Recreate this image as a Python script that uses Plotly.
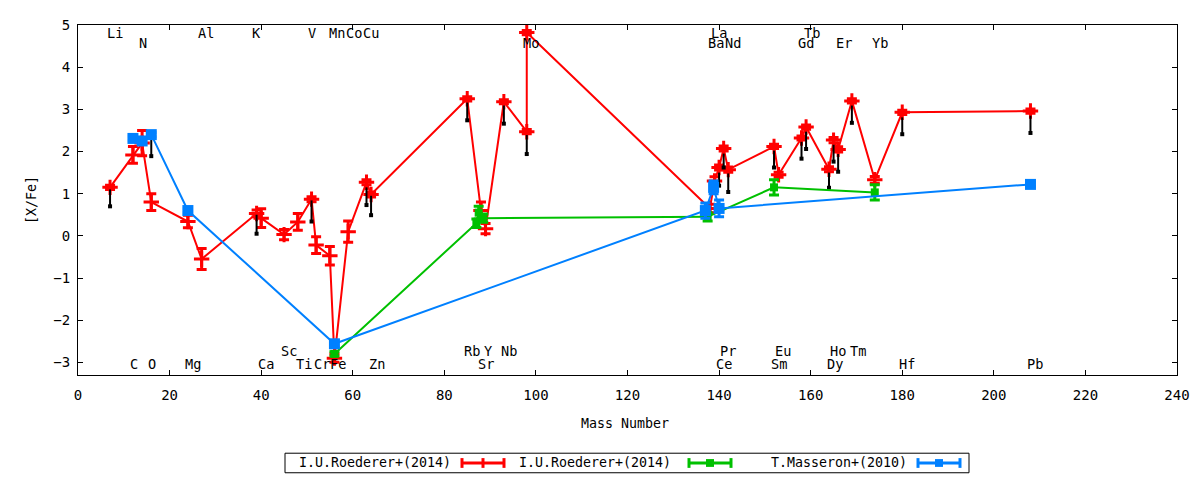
import plotly.graph_objects as go

# I.U.Roederer+(2014), main set (red)
red_x = [7, 12, 14, 16, 24, 27, 39, 40, 45, 48, 51, 52, 55, 56, 59, 63, 64,
         85, 88, 89, 93, 98, 98, 138, 139, 140, 141, 142, 152, 153, 158, 159,
         164, 165, 166, 169, 174, 180, 208]
red_y = [1.15, 1.92, 2.2, 0.8, 0.34, -0.55, 0.53, 0.42, 0.03, 0.33, 0.87, -0.22,
         -0.47, -2.9, 0.1, 1.27, 0.98, 3.25, 0.6, 0.17, 3.18, 2.47, 4.82, 0.65,
         1.3, 1.62, 2.07, 1.57, 2.12, 1.45, 2.32, 2.58, 1.58, 2.27, 2.05, 3.2,
         1.33, 2.93, 2.96]
red_err = [0.05, 0.2, 0.3, 0.2, 0.15, 0.25, 0.08, 0.22, 0.12, 0.2, 0.06, 0.2,
           0.22, 0.1, 0.25, 0.06, 0.06, 0.05, 0.2, 0.12, 0.05, 0.05, 0.05, 0.1,
           0.1, 0.06, 0.06, 0.06, 0.05, 0.06, 0.05, 0.05, 0.06, 0.06, 0.06, 0.05,
           0.08, 0.05, 0.05]

# upper-limit arrows under some red points
arrow_x = [7, 16, 39, 51, 63, 64, 85, 93, 98, 140, 141, 142, 152, 158, 159,
           164, 165, 166, 169, 180, 208]
arrow_top = [1.1, 2.3, 0.5, 0.84, 1.15, 0.95, 3.16, 3.09, 2.39, 1.5, 1.95, 1.48,
             2.02, 2.23, 2.47, 1.5, 2.16, 1.94, 3.09, 2.81, 2.85]
arrow_bot = [0.7, 1.89, 0.05, 0.34, 0.73, 0.49, 2.74, 2.66, 1.94, 1.19, 1.62,
             1.04, 1.62, 1.83, 2.06, 1.14, 1.76, 1.52, 2.68, 2.41, 2.44]

# I.U.Roederer+(2014), second set (green)
green_x = [56, 87, 87.5, 88.5, 137.5, 152, 174]
green_y = [-2.8, 0.3, 0.55, 0.42, 0.45, 1.15, 1.03]
green_err = [0.05, 0.1, 0.15, 0.1, 0.1, 0.18, 0.18]

# T.Masseron+(2010) (blue)
blue_x = [12, 14, 16, 24, 56, 137, 138.8, 140, 208]
blue_y = [2.31, 2.25, 2.4, 0.6, -2.56, 0.6, 1.15, 0.65, 1.22]
blue_err = [0.05, 0.05, 0.05, 0.05, 0.08, 0.18, 0.15, 0.2, 0.05]

# element labels: names and x per row
top1_names = ['Li', 'Al', 'K', 'V', 'Mn', 'Co', 'Cu', 'La', 'Tb']
top1_x = [8.0, 27.9, 39.0, 51.1, 56.5, 60.2, 63.9, 140.0, 160.3]
top2_names = ['N', 'Mo', 'Ba', 'Nd', 'Gd', 'Er', 'Yb']
top2_x = [14.1, 98.9, 139.3, 143.0, 159.0, 167.3, 175.2]
bot1_names = ['Sc', 'Rb', 'Y', 'Nb', 'Pr', 'Eu', 'Ho', 'Tm']
bot1_x = [46.0, 86.0, 89.6, 94.1, 142.0, 154.0, 166.0, 170.4]
bot2_names = ['C', 'O', 'Mg', 'Ca', 'Ti', 'Cr', 'Fe', 'Zn', 'Sr', 'Ce', 'Sm',
              'Dy', 'Hf', 'Pb']
bot2_x = [12.2, 16.1, 25.1, 41.0, 49.3, 53.3, 56.7, 65.3, 89.1, 141.1, 153.1,
          165.3, 181.1, 209.0]
row_y = [4.81, 4.57, -2.72, -3.04]

legend_names = ['I.U.Roederer+(2014)', 'I.U.Roederer+(2014)', 'T.Masseron+(2010)']

RED = '#ff0000'
GREEN = '#00c000'
BLUE = '#0080ff'
FONT = 'DejaVu Sans Mono'

fig = go.Figure()

fig.add_trace(go.Scatter(
    x=red_x, y=red_y, mode='lines+markers',
    line=dict(color=RED, width=2),
    marker=dict(symbol='cross-thin', size=11, line=dict(color=RED, width=3)),
    error_y=dict(type='data', array=red_err, color=RED, thickness=3, width=5),
))

ax, ay = [], []
for x, t, b in zip(arrow_x, arrow_top, arrow_bot):
    ax += [x, x, None]
    ay += [t, b, None]
fig.add_trace(go.Scatter(x=ax, y=ay, mode='lines', line=dict(color='black', width=2)))
fig.add_trace(go.Scatter(x=arrow_x, y=arrow_bot, mode='markers',
                         marker=dict(symbol='square', size=4, color='black')))

fig.add_trace(go.Scatter(
    x=green_x, y=green_y, mode='lines+markers',
    line=dict(color=GREEN, width=2),
    marker=dict(symbol='square', size=8, color=GREEN),
    error_y=dict(type='data', array=green_err, color=GREEN, thickness=3, width=5),
))

fig.add_trace(go.Scatter(
    x=blue_x, y=blue_y, mode='lines+markers',
    line=dict(color=BLUE, width=2),
    marker=dict(symbol='square', size=11, color=BLUE),
    error_y=dict(type='data', array=blue_err, color=BLUE, thickness=3, width=5),
))

for names, xs, y in zip([top1_names, top2_names, bot1_names, bot2_names],
                        [top1_x, top2_x, bot1_x, bot2_x], row_y):
    for n, x in zip(names, xs):
        fig.add_annotation(x=x, y=y, text=n, showarrow=False,
                           xanchor='center', yanchor='middle',
                           font=dict(family=FONT, size=13.6, color='black'))

# hand-made gnuplot style key below the plot (page pixels -> paper coords)
L, W, B, H = 78, 1099, 375, 358
px = lambda p: (p - L) / W
py = lambda p: (B - p) / H

fig.add_shape(type='rect', xref='paper', yref='paper',
              x0=px(285), x1=px(969), y0=py(455), y1=py(475),
              line=dict(color='black', width=1))
for name, tx, s0, col, sym in zip(legend_names, [453, 673, 909], [462, 689, 918],
                                  [RED, GREEN, BLUE], ['line-ns', 'square', 'square']):
    fig.add_annotation(xref='paper', yref='paper', x=px(tx), y=py(465), text=name,
                       xanchor='right', yanchor='middle', showarrow=False,
                       font=dict(family=FONT, size=13.3, color='black'))
    s1 = s0 + 42
    fig.add_shape(type='line', xref='paper', yref='paper', x0=px(s0), x1=px(s1),
                  y0=py(465), y1=py(465), line=dict(color=col, width=3))
    for s in (s0, s1):
        fig.add_shape(type='line', xref='paper', yref='paper', x0=px(s), x1=px(s),
                      y0=py(460), y1=py(470), line=dict(color=col, width=3))
    m = (s0 + s1) / 2
    if sym == 'line-ns':
        fig.add_shape(type='line', xref='paper', yref='paper', x0=px(m), x1=px(m),
                      y0=py(460), y1=py(470), line=dict(color=col, width=3))
    else:
        fig.add_shape(type='rect', xref='paper', yref='paper', x0=px(m - 4), x1=px(m + 4),
                      y0=py(461), y1=py(469), fillcolor=col, line=dict(color=col, width=0))

fig.add_annotation(xref='paper', yref='paper', x=px(625), y=py(425), text='Mass Number',
                   xanchor='center', yanchor='middle', showarrow=False,
                   font=dict(family=FONT, size=13.3, color='black'))
fig.add_annotation(xref='paper', yref='paper', x=px(31), y=0.5, text='[X/Fe]',
                   textangle=-90, xanchor='center', yanchor='middle', showarrow=False,
                   font=dict(family=FONT, size=13.3, color='black'))

fig.update_xaxes(range=[0, 240], dtick=20, ticks='inside', ticklen=5, mirror='ticks',
                 showline=True, linecolor='black', linewidth=1, showgrid=False,
                 zeroline=False, tickcolor='black', ticklabelstandoff=7,
                 tickfont=dict(family=FONT, size=14, color='black'))
fig.update_yaxes(range=[-3.3, 5], dtick=1, ticks='inside', ticklen=5, mirror='ticks',
                 showline=True, linecolor='black', linewidth=1, showgrid=False,
                 zeroline=False, tickcolor='black', ticklabelstandoff=4,
                 tickfont=dict(family=FONT, size=14, color='black'))

# page body has an 8px margin, so the figure is shrunk and offset to fit the window
fig.update_layout(width=1192, height=472, showlegend=False,
                  margin=dict(l=70, r=23, t=9, b=105),
                  paper_bgcolor='white', plot_bgcolor='white')

fig.write_html('out.html')
